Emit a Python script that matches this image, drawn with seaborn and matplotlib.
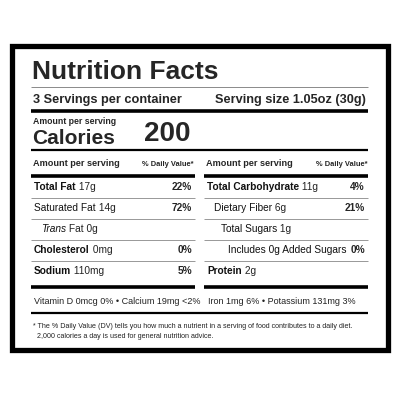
import matplotlib
matplotlib.use('Agg')
import matplotlib.pyplot as plt
import seaborn as sns

# label content
servings = "3 Servings per container"
serving_size = "Serving size 1.05oz (30g)"
calories = "200"

left_names = ["Total Fat", "Saturated Fat", "Trans Fat", "Cholesterol", "Sodium"]
left_amounts = ["17g", "14g", "0g", "0mg", "110mg"]
left_dv = ["22%", "72%", "", "0%", "5%"]
left_bold = [True, False, False, True, True]
left_indent = [0, 0, 7, 0, 0]

right_names = ["Total Carbohydrate", "Dietary Fiber", "Total Sugars", "Includes 0g Added Sugars", "Protein"]
right_amounts = ["11g", "6g", "1g", "", "2g"]
right_dv = ["4%", "21%", "", "0%", ""]
right_bold = [True, False, False, False, True]
right_indent = [0, 7, 14, 21, 0]

vitamins_left = "Vitamin D 0mcg 0% \u2022 Calcium 19mg <2%"
vitamins_right = "Iron 1mg 6% \u2022 Potassium 131mg 3%"
footnote = ["* The % Daily Value (DV) tells you how much a nutrient in a serving of food contributes to a daily diet.",
            "2,000 calories a day is used for general nutrition advice."]

sns.set_theme(style="white")
plt.rcParams['font.family'] = ['Liberation Sans', 'DejaVu Sans']

fig = plt.figure(figsize=(4, 4), dpi=100)
ax = fig.add_axes([0, 0, 1, 1])
ax.set_xlim(0, 400)
ax.set_ylim(400, 0)
ax.axis('off')

# outer box
ax.add_patch(plt.Rectangle((12, 46), 376, 304, fill=False, lw=3.8, ec='black'))

def hline(y, x0, x1, lw, c='black'):
    ax.plot([x0, x1], [y, y], color=c, lw=lw, solid_capstyle='butt')

ax.text(32, 72, "Nutrition Facts", fontsize=19, fontweight='heavy', va='center')
hline(87, 31, 368, 0.6, '#777777')
ax.text(33, 100, servings, fontsize=9.2, fontweight='bold', va='center')
ax.text(366, 100, serving_size, fontsize=9.2, fontweight='bold', va='center', ha='right')
hline(111, 31, 368, 2.6)
ax.text(33, 121, "Amount per serving", fontsize=6.3, fontweight='bold', va='center')
ax.text(32, 138, "Calories", fontsize=15, fontweight='heavy', va='center')
ax.text(144, 134, calories, fontsize=20, fontweight='heavy', va='center')
hline(150, 31, 368, 1.6)

def column(x0, x1, names, amounts, dv, bold, indent):
    ax.text(x0 + 2, 164, "Amount per serving", fontsize=6.6, fontweight='bold', va='center')
    ax.text(x1 - 1, 164, "% Daily Value*", fontsize=5.4, fontweight='bold', va='center', ha='right')
    hline(176, x0, x1, 2.6)
    ys = [187, 208, 229, 250, 271]
    for i, (n, a, d, b, ind) in enumerate(zip(names, amounts, dv, bold, indent)):
        y = ys[i]
        if n.startswith("Trans"):
            t = ax.text(x0 + 3 + ind, y, "Trans", fontsize=7.3, style='italic', va='center', color='#111111')
            ax.annotate(" Fat " + a, xy=(1, 0), xycoords=t, va='bottom', fontsize=7.3, color='#222222')
        else:
            t = ax.text(x0 + 3 + ind, y, n, fontsize=7.3, fontweight='bold' if b else 'normal', va='center',
                        color='#111111')
            if a:
                ax.annotate(" " + a, xy=(1, 0), xycoords=t, va='bottom', fontsize=7.3, color='#222222')
        if d:
            ax.text(x1 - 3, y, d, fontsize=7.3, fontweight='bold', va='center', ha='right')
        if i < 4:
            hline(y + 11, x0, x1, 0.6, '#888888')
    hline(287, x0, x1, 2.6)

column(31, 195, left_names, left_amounts, left_dv, left_bold, left_indent)
column(204, 368, right_names, right_amounts, right_dv, right_bold, right_indent)

ax.text(34, 302, vitamins_left, fontsize=6.5, va='center', color='#222222')
ax.text(208, 302, vitamins_right, fontsize=6.5, va='center', color='#222222')
hline(313, 31, 368, 1.6)
ax.text(33, 327, footnote[0], fontsize=5.1, va='center', color='#222222')
ax.text(37, 337, footnote[1], fontsize=5.1, va='center', color='#222222')

fig.savefig("out.png", dpi=100, facecolor='white')
